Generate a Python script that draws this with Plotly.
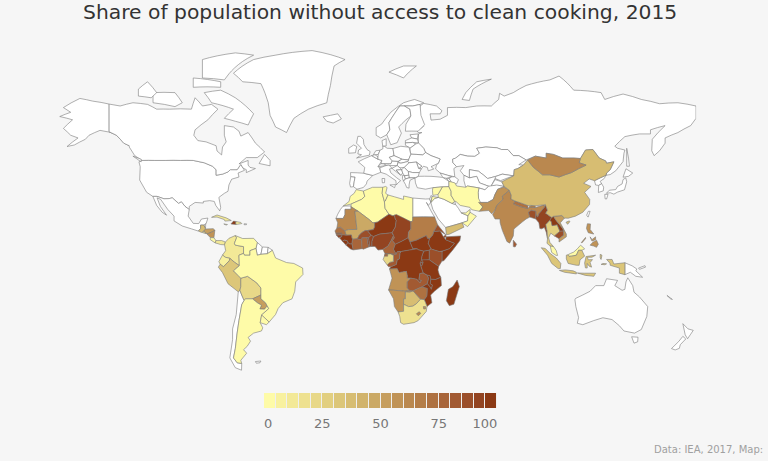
import plotly.graph_objects as go

# The page has no network, so plotly's world topojson can't load.
# Country outlines below are hand-simplified lon,lat rings instead.

title_text = "Share of population without access to clean cooking, 2015"
source_text = "Data: IEA, 2017, Map:"

bin_colors = [
    "#fefba8", "#f8f19f", "#f3e997", "#eee190", "#e8d888", "#e2cf80", "#dcc679",
    "#d7bd72", "#d1b36b", "#cba965", "#c69e5e", "#c09356", "#ba884f", "#b47d48",
    "#ae7141", "#a8653a", "#a25a32", "#9b4f2a", "#934421", "#8b3914",
]
scale_ticks = [1.8, 25, 50, 75, 94.8]
scale_labels = ["0", "25", "50", "75", "100"]

shaded_names = [
    "Morocco", "Algeria", "Tunisia", "Libya", "Mauritania", "Mali", "Senegal", "Gambia",
    "Guinea-Bissau", "Guinea", "Sierra Leone", "Liberia", "Ivory Coast", "Ghana", "Burkina Faso",
    "Togo", "Benin", "Niger", "Nigeria", "Cameroon", "Chad", "Sudan", "South Sudan", "CAR",
    "Eritrea", "Djibouti", "Ethiopia", "Somalia", "Kenya", "Uganda", "Rwanda", "Burundi",
    "Tanzania", "DR Congo", "Congo", "Gabon", "Eq. Guinea", "Angola", "Namibia", "Botswana",
    "Zambia", "Zimbabwe", "Malawi", "Mozambique", "South Africa", "Lesotho", "Swaziland",
    "Madagascar", "Yemen", "Oman", "UAE", "Iraq", "Syria", "Jordan", "Iran", "Pakistan", "India",
    "Nepal", "Bhutan", "Bangladesh", "Sri Lanka", "Myanmar", "Thailand", "Laos", "Cambodia",
    "Vietnam", "Malaysia", "China", "Mongolia", "Philippines", "Indonesia", "Guatemala",
    "Honduras", "El Salvador", "Nicaragua", "Costa Rica", "Panama", "Cuba", "Haiti",
    "Dominican Rep.", "Jamaica", "Colombia", "Venezuela", "Ecuador", "Peru", "Bolivia",
    "Paraguay", "Brazil", "Argentina", "Uruguay",
]
shaded_values = [
    2, 2, 2, 2, 62, 46, 70, 85,
    92, 99, 99, 99, 76, 75, 88,
    90, 92, 97, 90, 78, 92, 68, 98, 98,
    85, 85, 96, 97, 86, 98, 98, 98,
    97, 97, 80, 24, 78, 55, 58, 38,
    84, 70, 98, 96, 18, 60, 55,
    98, 38, 2, 2, 2, 2, 2, 2, 57, 62,
    72, 68, 88, 80, 93, 26, 96, 86,
    52, 2, 36, 62, 55, 34, 36,
    52, 22, 55, 4, 12, 12, 97,
    9, 8, 14, 3, 6, 32, 20,
    52, 3, 3, 3,
]

outlines = {
    "Russia": [
        "28,60 30,60 28.2,59.5 28,56 31,54 32,52.3 35,51 40,49.6 39,47.8 38,47 37.5,45.3 40,43.5 44,42.5 48,41.8 47.5,45.5 49,46.3 47,48 46.8,49.5 48.5,50 51,51.5 55,50.8 59,50.7 61.5,52 60,54 65,54.5 71,54.2 73.5,53.5 77,53.5 80,51 83,51 87,49.2 92,50.8 98,50 98,52 102,51.5 107,50 113,50 116.7,49.8 119.5,53.3 123.5,53.5 127,50 130.5,48.8 131,47.8 135,48.4 133,45 131,43.5 130.7,42.5 133,42.8 136,44.5 140,48.5 140.5,52 141,53.3 137,54 135.5,54.8 141,58.5 149,59.5 155,59.5 155,61 163,62.5 156,57.5 155.7,53 157,51 160,53 163,56 163,58 170,60 177,62.5 179.9,65 179.9,69 170,70 160,69.7 150,71 140,72.6 130,71 128,73 113,73.7 105,77.5 100,76.5 87,75 80,73 75,72 72.5,72.8 72,71 68,69 60,69 54,68.5 44,68.5 44,66 40,64.7 35,64.4 34.5,66.5 40,66.5 41,67.5 38,69 31,69.8 29,69 28.5,66 30,63 31,62.3 27.5,60.5",
        "142,54 143,50 143.5,46.5 142,46.5 142,50",
        "52,71 56,70.7 58,74 68,76.7 60,76 54,73",
    ],
    "USA": [
        "-141,69.6 -141,60.3 -137,59 -133,56 -130,55 -132,57 -137,59.5 -146,60.8 -152,59 -154,57.5 -160,55.3 -164,54.7 -158,58 -162,59 -166,61.5 -161,64.5 -168,65.6 -162,67 -166,68.5 -157,71.3 -150,70.5",
        "-124.7,48.4 -123,49 -116,49 -110,49 -102,49 -95,49 -89,48 -84.5,46.5 -82.5,45 -82.5,42.5 -79,43 -76,44 -74.7,45 -71,45 -69,47.3 -67.8,45.7 -67,44.7 -70.5,43.5 -70,41.7 -74,40.7 -75.5,38 -76,35 -78,34 -81,32 -80,27 -80.5,25.2 -82.7,28 -83.5,30 -86,30.4 -89.5,30 -89.5,29.2 -94,29.5 -97.2,27.5 -97.2,25.9 -99.5,27.5 -101.5,29.8 -103,29 -106.5,31.8 -108.2,31.4 -111,31.3 -114.8,32.5 -117.1,32.5 -120.5,34.5 -124.3,40.3 -124,46.3",
    ],
    "Canada": [
        "-141,69.6 -135,69 -128,70 -120,69.5 -115,68 -108,68 -96,68 -94,71.5 -90,69 -85,69.5 -81.5,68 -87,64.5 -94,61 -94.7,59 -92.5,57 -88,56.5 -82.5,55 -82,52.9 -79.5,51.3 -79,54.5 -77,56.5 -78,59 -78,62.5 -73,62 -70,60.5 -69,58.7 -65,60 -61,56 -56,52.5 -60,50.2 -66,50.2 -70,47.5 -65,49 -65,47 -64,46 -61,45.5 -66,43.7 -66,45 -67.8,45.7 -69,47.3 -71,45 -74.7,45 -76,44 -79,43 -82.5,42.5 -82.5,45 -84.5,46.5 -89,48 -95,49 -102,49 -110,49 -116,49 -123,49 -127,51 -130,54.5 -130,55 -133,56 -137,59 -141,60.3",
        "-80,73.7 -72,71.5 -62,66.5 -65,62.7 -72,64 -78,65 -73,68 -85,70 -89,73",
        "-117,70 -105,68.8 -101,70 -105,73 -117,73",
        "-59,47.7 -53,46.7 -53,49 -56,51.5",
        "-90,77 -78,76.5 -62,82.5 -72,83 -90,81.5",
        "-125,72 -118,71.5 -115,73 -120,76 -125,74",
        "-95,74.5 -80,74.5 -80,76 -95,77",
        "-128,50.8 -123.5,48.4 -123.5,49.5",
    ],
    "Greenland": ["-73,78.2 -68,76 -58,75.5 -54,70 -53,66 -50,62 -44,60 -40,65 -32,68 -22,70 -20,75 -18,80 -12,81.5 -30,83.5 -50,82.5 -62,81.5"],
    "Iceland": ["-24,65.5 -22,64 -18.5,63.4 -14,64.8 -16,66.5 -20,66"],
    "Mexico": ["-117.1,32.5 -114.8,32.5 -111,31.3 -108.2,31.4 -106.5,31.8 -103,29 -101.5,29.8 -99.5,27.5 -97.2,25.9 -97.8,22.5 -95,18.7 -92,18.6 -90.5,21 -87,21.5 -88,18.5 -89,17.8 -91,17.8 -91,16 -92.2,14.6 -96,15.8 -101,17.3 -105.5,20 -105.5,22.5 -109,26 -112.8,31 -114.8,31.8 -113,27.5 -109.6,23 -112,24.5 -115,28"],
    "Guatemala": ["-92.2,14.6 -91,16 -91,17.8 -89.2,17.8 -88.3,15.7 -89.3,14.5 -90.5,13.9"],
    "Belize": ["-89.2,17.8 -88.2,18.5 -88.3,16"],
    "Honduras": ["-89.3,14.5 -88.3,15.7 -84,15.9 -83.2,15 -85,14 -87.5,13.1"],
    "El Salvador": ["-90,13.8 -89.3,14.4 -87.8,13.5 -88,13.2"],
    "Nicaragua": ["-87.5,13 -85,14 -83.2,15 -83.7,11 -85.7,11.1"],
    "Costa Rica": ["-85.7,11.1 -83.7,11 -82.6,9.5 -83,8.2 -85.7,10"],
    "Panama": ["-83,8.2 -82.6,9.5 -79.5,9.5 -77.4,8.7 -77.9,7.2 -80,7.3 -81.5,7.8"],
    "Cuba": ["-85,21.9 -82,23.1 -77,21.6 -74.2,20.2 -77.7,19.9 -78,20.7 -82,22"],
    "Haiti": ["-74.4,18.4 -73,19.9 -71.7,19.7 -71.7,18.1"],
    "Dominican Rep.": ["-71.7,19.7 -69,19.2 -68.4,18.6 -71.7,18.1"],
    "Jamaica": ["-78.3,18.4 -76.3,18.1 -77,17.8"],
    "Puerto Rico": ["-67.2,18.5 -65.7,18.4 -66,18 -67.2,18"],
    "Colombia": ["-77.4,8.7 -75.5,10.7 -72,12.2 -71.3,11 -72.5,8 -72,7 -67.5,6.2 -67.5,2.5 -70,1.5 -69.8,-4.2 -72.5,-2.3 -75,-0.2 -77.5,0.4 -79,1.6 -77.3,4 -77.9,7.2"],
    "Venezuela": ["-72,12.2 -68,10.6 -62,10.7 -60,8.5 -60.7,5.2 -64,4 -64,1.5 -67,1.5 -67.5,2.5 -67.5,6.2 -72,7 -72.5,8 -71.3,11"],
    "Guyana": ["-60,8.5 -57.2,6 -58,2 -60,1.5 -60.7,5.2"],
    "Suriname": ["-57.2,6 -54,5.8 -54.5,2.3 -58,2"],
    "French Guiana": ["-54,5.8 -51.7,4.2 -54.5,2.3"],
    "Ecuador": ["-79,1.6 -77.5,0.4 -75,-0.2 -75.3,-1.5 -78.5,-4.8 -80.3,-3.4 -81,-2"],
    "Peru": ["-80.3,-3.4 -78.5,-4.8 -75.3,-1.5 -75,-0.2 -72.5,-2.3 -69.8,-4.2 -73,-7 -70.5,-9.5 -69,-11 -69,-15.5 -69.5,-17.5 -70.4,-18.3 -76,-14 -79,-8 -81.3,-5"],
    "Bolivia": ["-69,-11 -65.3,-10 -60.3,-13.5 -58,-16.3 -58,-20 -62.6,-22 -66.3,-22 -67.2,-22.8 -68.5,-20 -69.5,-17.5 -69,-15.5"],
    "Chile": ["-69.5,-17.5 -68.5,-20 -67.2,-22.8 -68.5,-25 -70,-33 -71,-39 -72,-46 -73,-50 -71,-52 -68.5,-52.3 -68.6,-55 -72,-54 -75,-50 -73.5,-42 -73.5,-37 -71.5,-30 -70.4,-18.3"],
    "Paraguay": ["-62.6,-22 -58,-20 -58,-22 -55.5,-24 -54.6,-25.6 -56,-27.3 -58.6,-27.2 -57.7,-25.3 -60,-24"],
    "Argentina": ["-66.3,-22 -62.6,-22 -60,-24 -57.7,-25.3 -58.6,-27.2 -56,-27.3 -54.6,-25.6 -53.7,-27 -57.6,-30.2 -58.4,-34 -57,-36.5 -57.7,-38 -62,-39 -65,-41 -63.7,-42.7 -65.5,-45 -67.5,-46.5 -65.8,-48 -69,-51 -68.5,-52.3 -71,-52 -73,-50 -72,-46 -71,-39 -70,-33 -68.5,-25 -67.2,-22.8"],
    "Uruguay": ["-57.6,-30.2 -53.5,-33.7 -55,-35 -58.4,-34"],
    "Brazil": ["-60.7,5.2 -60,1.5 -58,2 -54.5,2.3 -51.7,4.2 -50,0 -44,-2.5 -40,-3 -35.2,-5.5 -35,-9 -39,-13 -39.5,-18 -41,-22 -46,-24 -48.6,-27 -50,-30 -53.5,-33.7 -57.6,-30.2 -53.7,-27 -54.6,-25.6 -55.5,-24 -58,-22 -58,-16.3 -60.3,-13.5 -65.3,-10 -69,-11 -70.5,-9.5 -73,-7 -69.8,-4.2 -70,1.5 -67.5,2.5 -67,1.5 -64,1.5 -64,4"],
    "Falklands": ["-61,-51.5 -58,-51.3 -58.5,-52 -60.5,-52.2"],
    "Morocco": ["-5.9,35.8 -2,35.1 -1.2,32.5 -3,31 -8.7,28.7 -13,27.7 -9.8,30 -9.2,32.5 -7,34"],
    "W. Sahara": ["-13,27.7 -8.7,27.7 -8.7,26 -12,26 -12,23.4 -13,21.3 -17,21.3 -16,23.5 -14.5,26"],
    "Algeria": ["-2,35.1 3,36.9 8.6,36.9 8.3,34 9.5,30 9.9,26.5 12,23.5 5.8,19.4 3.2,19 1.2,20.7 -4.8,25 -8.7,27.3 -8.7,28.7 -3,31 -1.2,32.5"],
    "Tunisia": ["8.6,36.9 10.2,37.3 11,36.8 10.2,34 11.5,33.2 10,30.2 9.5,30 8.3,34"],
    "Libya": ["11.5,33.2 15,32.3 20,31 20,32.7 25,31.7 25,20 24,19.5 15,23 14.2,22.6 12,23.5 9.9,26.5 9.5,30 10,30.2"],
    "Egypt": ["25,31.7 32,31.2 34.3,31.3 34.9,29.5 33.5,28 32.5,29.5 35.7,24 37,22 25,22"],
    "Mauritania": ["-17,21.3 -13,21.3 -12,23.4 -12,26 -8.7,26 -8.7,27.3 -4.8,25 -6.6,25 -5.5,15.5 -10,15.4 -12.2,14.8 -14.5,16.6 -16.5,16.1 -16,19"],
    "Mali": ["-12.2,14.8 -10,15.4 -5.5,15.5 -6.6,25 -4.8,25 1.2,20.7 3.2,19 4.2,19 4.2,16.8 3.5,15.4 0.2,14.9 -1,14.9 -3,13.7 -4.3,12.3 -5.3,10.5 -7.9,10.2 -8.3,11 -8.5,12.5 -11.4,12.4"],
    "Senegal": ["-16.5,16.1 -14.5,16.6 -12.2,14.8 -11.4,12.4 -13.7,12.6 -16.7,12.4 -17.5,14.7"],
    "Gambia": ["-16.8,13.6 -13.8,13.6 -13.8,13.2 -16.7,13.2"],
    "Guinea-Bissau": ["-16.7,12.4 -13.7,12.6 -13.7,11.7 -15.5,11"],
    "Guinea": ["-13.7,12.6 -11.4,12.4 -8.5,12.5 -8.3,11 -7.9,10.2 -8.2,7.7 -9.4,7.6 -10.5,8.4 -10.7,9.3 -12.5,9.8 -13.3,9 -15,10.9 -13.7,11.7"],
    "Sierra Leone": ["-13.3,9 -12.5,9.8 -10.7,9.3 -10.5,8.4 -11.4,6.9"],
    "Liberia": ["-11.4,6.9 -10.5,8.4 -9.4,7.6 -8.2,7.7 -7.5,4.4 -9,4.9"],
    "Ivory Coast": ["-8.2,7.7 -7.9,10.2 -5.3,10.5 -2.9,9.8 -2.7,5.1 -7.5,4.4"],
    "Ghana": ["-2.9,9.8 -2.8,11 0,11.1 0.5,8 1,6 -2,4.8 -2.7,5.1"],
    "Burkina Faso": ["-5.3,10.5 -4.3,12.3 -3,13.7 -1,14.9 0.2,14.9 2.3,12.4 0.9,11 0,11.1 -2.8,11 -2.9,9.8"],
    "Togo": ["0,11.1 0.9,11 1.6,6.2 1,6 0.5,8"],
    "Benin": ["0.9,11 2.3,12.4 3.6,11.7 2.7,9 2.7,6.3 1.6,6.2"],
    "Niger": ["0.2,14.9 3.5,15.4 4.2,16.8 4.2,19 5.8,19.4 12,23.5 14.2,22.6 15,23 15.5,20.9 16,20.3 15.5,16.8 13.7,13.7 10,13.3 7,13 3.6,11.7 2.3,12.4"],
    "Nigeria": ["2.7,6.3 2.7,9 3.6,11.7 7,13 10,13.3 13.7,13.7 14.5,12.2 13.2,9.5 11.5,6.5 8.7,4.7 6,4.3 4.4,6.3"],
    "Cameroon": ["8.7,4.7 11.5,6.5 13.2,9.5 14.5,12.2 14.2,13 15,11 14,9.5 15.5,7.5 14.5,4.8 16,2 13,2.2 9.9,2.2"],
    "Chad": ["13.7,13.7 15.5,16.8 16,20.3 15.5,20.9 15,23 16,23.4 24,19.5 24,15.7 22.7,14 22.5,11 18.8,9 15.5,7.5 14,9.5 15,11 14.2,13"],
    "Sudan": ["24,19.5 25,20 25,22 37,22 38.6,18 36.5,14.3 36,12.5 34.2,10.5 33,10.7 32.5,12.2 27,9.7 23.5,8.7 22.5,11 22.7,14 24,15.7"],
    "South Sudan": ["23.5,8.7 27,9.7 32.5,12.2 33,10.7 34.2,10.5 33.5,8 35,5 34,4.2 31,3.7 28,4.5 27.4,5 25,5"],
    "CAR": ["14.5,4.8 15.5,7.5 18.8,9 22.5,11 23.5,8.7 25,5 27.4,5 22.5,4.2 18.6,3.5 16.5,3.4 16,2"],
    "Eritrea": ["36.5,14.3 38.6,18 43,12.7 40,14.6"],
    "Djibouti": ["43,12.7 43.3,11.5 42.3,11 41.8,11.5"],
    "Ethiopia": ["36.5,14.3 40,14.6 41.8,11.5 42.3,11 43,10 47.9,8 45,5 42,4 39.5,3.5 35.9,4.6 35,5 33.5,8 34.2,10.5 36,12.5"],
    "Somalia": ["43,10 43.3,11.5 51.2,12 50.8,9.5 47,4.5 42,-1.5 41,-1.7 41,3.5 42,4 45,5 47.9,8"],
    "Kenya": ["35,5 35.9,4.6 39.5,3.5 41,3.5 41,-1.7 39.2,-4.6 34,-1 34,4.2"],
    "Uganda": ["31,3.7 34,4.2 34,-1 29.7,-1.4 30,1"],
    "Rwanda": ["29,-1.4 30.5,-1.1 30.7,-2.4 29,-2.8"],
    "Burundi": ["29,-2.8 30.7,-2.4 30,-4.3 29.4,-4.4"],
    "Tanzania": ["30,-1 34,-1 39.2,-4.6 38.8,-6.5 39.5,-9 40.4,-10.5 37.5,-11.7 34.9,-11.6 34.4,-9.6 32.9,-9.4 30.7,-8.2 29.4,-4.4 30,-4.3 30.7,-2.4"],
    "DR Congo": ["18.6,3.5 22.5,4.2 27.4,5 28,4.5 31,3.7 30,1 29.7,-1.4 29,-2.8 29.4,-4.4 30.7,-8.2 28.9,-8.5 28.4,-11.8 29.8,-12.2 29,-13.4 27.2,-11.6 24,-11 22,-11 22,-9.5 21.5,-7.3 17.5,-8 16.5,-5.9 12.3,-6 13,-4.8 16,-3.5 16.5,-1 17.7,-0.5 18,2.5"],
    "Congo": ["16,2 16.5,3.4 18.6,3.5 18,2.5 17.7,-0.5 16.5,-1 16,-3.5 13,-4.8 11.8,-4.8 11,-3.8 12.5,-2.3 14.4,-2 14.5,1.4 13,2.2"],
    "Gabon": ["9.9,2.2 13,2.2 14.5,1.4 14.4,-2 12.5,-2.3 11,-3.8 8.8,-0.8 9.5,1"],
    "Eq. Guinea": ["9.8,2.2 11.3,2.2 11.3,1 9.5,1"],
    "Angola": ["12.3,-6 16.5,-5.9 17.5,-8 21.5,-7.3 22,-9.5 22,-11 24,-11 22,-13 22,-16.3 23.4,-17.6 20.8,-18 13.9,-17.4 11.8,-17.3 13.7,-11 13,-8.5"],
    "Namibia": ["11.8,-17.3 13.9,-17.4 20.8,-18 23.4,-17.6 25.2,-17.8 23.4,-18.5 21,-18.3 21,-22 20,-22 20,-28.4 17,-28.7 15,-26 14.5,-22"],
    "Botswana": ["21,-18.3 23.4,-18.5 25.2,-17.8 29.3,-22.2 26.8,-24.7 25,-25.8 22.7,-26 20,-24.8 20,-22 21,-22"],
    "Zambia": ["22,-13 24,-11 27.2,-11.6 29,-13.4 29.8,-12.2 28.4,-11.8 28.9,-8.5 30.7,-8.2 32.9,-9.4 33.7,-11 33,-14 30.2,-15.6 28,-16.5 25.2,-17.8 23.4,-17.6 22,-16.3"],
    "Zimbabwe": ["25.2,-17.8 28,-16.5 30.2,-15.6 33,-16.5 32.8,-20.5 31.3,-22.4 29.3,-22.2"],
    "Malawi": ["32.9,-9.4 34.4,-9.6 34.9,-11.6 34.6,-14 35.8,-14.7 35.2,-17 34.3,-15.5 33,-14 33.7,-11"],
    "Mozambique": ["34.9,-11.6 37.5,-11.7 40.4,-10.5 40.7,-15 36.9,-18 34.8,-20 35.5,-24 32.8,-26 32,-24 31.3,-22.4 32.8,-20.5 33,-16.5 30.2,-15.6 33,-14 34.3,-15.5 35.2,-17 35.8,-14.7 34.6,-14"],
    "South Africa": ["17,-28.7 20,-28.4 20,-24.8 22.7,-26 25,-25.8 26.8,-24.7 29.3,-22.2 31.3,-22.4 32,-24 32.8,-26 32.4,-28.5 28,-33 25.7,-34 20,-34.8 18.4,-34 17.9,-31"],
    "Lesotho": ["27,-29.6 28.6,-28.6 29.4,-29.5 28,-30.6"],
    "Swaziland": ["30.8,-26 32,-26 32,-27.2 31,-27.2"],
    "Madagascar": ["49.3,-12 50.5,-15.5 47.5,-24.8 45,-25.5 43.4,-23 44.5,-17 47,-15.5"],
    "Lake Victoria": ["31.7,-0.4 34,-0.4 33.8,-2.5 32,-2.6"],
    "Yemen": ["43.4,12.7 43,16.5 46,17.3 52,19 53,16.7 45,12.9"],
    "Oman": ["52,19 55,20 55.2,22.7 56.3,24.5 59.8,22.5 55,17"],
    "Saudi Arabia": ["34.9,29.5 37,31.5 39,32 42,31.1 46.5,29 48.4,28.5 50,26.5 51.5,24.2 55.2,22.7 55,20 52,19 46,17.3 43,16.5 39,21 36,26"],
    "UAE": ["51.5,24.2 54,24.2 56.4,26 56.3,24.5 55.2,22.7"],
    "Kuwait": ["46.5,29 48,30 48.4,28.5"],
    "Iraq": ["39,32 38.8,33.4 41.2,37.1 44.8,37.2 46,35 46,33 48,30 46.5,29 42,31.1"],
    "Syria": ["35.8,35.5 36,36.7 41.2,37.1 38.8,33.4 36,33"],
    "Jordan": ["35,29.5 35.6,32.5 39,32 37,31.5"],
    "Israel": ["34.3,31.3 35.1,33 35.6,32.5 35,29.5"],
    "Iran": ["44.8,39.7 48,39 49,37.5 54,36.9 55,37.5 61.2,36.6 60.8,34.4 61,31.5 63.3,27.2 61.5,25 57.3,25.8 56.3,27 51,28 48.6,30 48,30 46,33 46,35 44.8,37.2"],
    "Turkey": ["26.2,41.2 28,42 35,42 41.5,41.5 44.8,39.7 44.8,37.2 41.2,37.1 36,36.7 32,36 27.5,36.7 26.5,39"],
    "Georgia": ["40,43.5 44,42.5 46.4,41.8 43.5,41.1 41.5,41.5"],
    "Armenia": ["43.5,41.1 45,41 46.5,38.9 44.8,39.7"],
    "Azerbaijan": ["44.9,41 46.4,41.8 48,41.8 50,40.5 49,38.5 46.5,38.9"],
    "Kazakhstan": ["46.8,49.5 47,48 49,46.3 53,46.8 51,44.5 53,42.5 56,41.3 56,45 61,44.3 66,41 70.5,42 74,43 80.2,42.2 80.5,45 82.5,45.5 85.5,47 83,47.2 87,49.2 83,51 80,51 77,53.5 73.5,53.5 71,54.2 65,54.5 60,54 61.5,52 59,50.7 55,50.8 51,51.5 48.5,50"],
    "Uzbekistan": ["56,45 56,41.3 60,42 61.5,39 66.5,37.4 67.7,37.2 70,41 73,40.8 70.5,42 66,41 61,44.3"],
    "Turkmenistan": ["53,42.5 56,41.3 60,42 61.5,39 66.5,37.4 64.5,35.7 61.2,36.6 55,37.5 54,36.9 53,40"],
    "Kyrgyzstan": ["70,41 73,40 80.2,42.2 74,43 70.5,42"],
    "Tajikistan": ["67.7,37.2 70,37.8 75,37.3 73.7,39.5 70,40.5"],
    "Afghanistan": ["60.8,34.4 61.2,36.6 64.5,35.7 66.5,37.4 71,38 75,37.3 71.5,36 70,33.5 69,31 66,29.5 61,29.5 61,31.5"],
    "Pakistan": ["61,29.5 66,29.5 69,31 70,33.5 71.5,36 75,37 77.8,35.5 74,32.5 74.5,31 71,28 70,25.5 68.2,23.7 66.5,25.4 61.5,25 63.3,27.2"],
    "India": ["77.8,35.5 78.9,33 78.7,31.2 81,30.2 80.2,28.7 84,27.4 88,26.4 88.8,27.3 92,26.9 97,28.3 97,27 94,23.8 93.3,22 92.3,23.5 92.3,25 89.8,25.5 88.3,24.5 89,22 87,21 85,19.5 80.3,15.7 80,12 78,8.1 76.5,9 74,15 72.8,19 72.7,21 70,21 68.7,23.3 70,25.5 71,28 74.5,31 74,32.5"],
    "Nepal": ["80.2,28.7 81,30.2 88,27.9 88,26.4 84,27.4"],
    "Bhutan": ["88.8,27.3 89.5,28 92,27.8 92,26.9"],
    "Bangladesh": ["88.3,24.5 89.8,25.5 92.3,25 92.3,23.5 92.3,21 89,22"],
    "Sri Lanka": ["80,9.7 81.8,7.5 81,6 80,6.2"],
    "Myanmar": ["92.3,21 92.3,23.5 93.3,22 94,23.8 97,27 97.5,28.5 98.7,25.5 97.7,24 101,21.8 100,20.3 97.8,18 98.5,14.5 98.7,10.5 98,14 97,16.5 95.5,15.8 94.5,16 94,19"],
    "Thailand": ["97.8,18 100,20.3 100.8,19.5 101.2,17.5 104,18 105.5,14.5 102.5,12 100.5,13.5 99.3,11 100,8.5 102,6.2 100.2,6.5 98.4,8 98.7,10.5 98.5,14.5"],
    "Laos": ["101,21.8 102,22.4 103,20.8 107,16 107.5,14.7 105.5,14.5 104,18 101.2,17.5 100.8,19.5 100,20.3"],
    "Cambodia": ["102.5,12 105.5,14.5 107.5,14.7 107.5,12.3 105,10.5"],
    "Vietnam": ["102,22.4 106.5,22.8 108,21.5 105.7,19 109,13 109,11.5 105,8.7 105,10.5 107.5,12.3 107.5,14.7 107,16 103,20.8"],
    "Malaysia": [
        "100.2,6.5 102,6.2 103.5,4 104.2,1.4 103.4,1.4 101,3",
        "109.7,1.7 111.3,2.5 113,3.2 115,5 116.8,7 119,5 117.5,4.2 115.7,4.2 114.5,1.5 112,1 110.5,0.9",
    ],
    "China": [
        "73.7,39.5 75,37.3 77.8,35.5 78.9,33 78.7,31.2 81,30.2 88,27.9 89.5,28 92,27.8 97,28.3 97.5,28.5 98.7,25.5 97.7,24 101,21.8 102,22.4 106.5,22.8 108,21.5 110,21.4 114,22.5 118,24.5 121.7,28.5 121.8,31 119,34.5 122.5,37.3 118.5,38.8 121.5,40.8 124.4,40 130.7,42.5 131,43.5 133,45 135,48.4 131,47.8 130.5,48.8 127,50 123.5,53.5 119.5,53.3 116.7,49.8 116,48 119.8,47 111.8,43.7 105,41.7 100,42.7 96,42.7 91,46 87.8,49.2 85.5,47 82.5,45.5 80.5,45 80.2,42.2",
        "108.8,19.3 110.5,20 111,19.7 109.7,18.2",
    ],
    "Mongolia": ["87.8,49.2 91,46 96,42.7 100,42.7 105,41.7 111.8,43.7 119.8,47 116,48 116.7,49.8 113,50 107,50 102,51.5 98,52 98,50 92,50.8"],
    "Taiwan": ["121,25 122,25 120.9,22 120.1,23"],
    "North Korea": ["124.4,40 130.7,42.5 129.7,41 127.5,39.7 128.3,38.6 126.7,37.8 125,38"],
    "South Korea": ["126.7,37.8 128.3,38.6 129.4,37 129.2,35.2 126.5,34.4"],
    "Japan": [
        "130.9,34 132.5,35.5 136,35.8 137,37.3 139.5,38.5 140,40.5 141.5,41.3 142,39.5 140.8,35.7 137,34.6 135,33.6 133,34.3",
        "140,41.6 141.6,45.4 145.3,43.5 143,42",
        "130,33.5 131.8,33.5 131,31.2 130.2,31.3",
    ],
    "Philippines": [
        "120.5,18.5 122.2,18.4 122,15.5 124,13 121,13.7 120,16",
        "122,7 123.5,8.6 125.5,9.7 126.5,7.5 125.5,5.8 124,6.5",
        "122,11.5 123,10 125,11.5 125,10 123,9.2",
        "117.2,8.4 119.5,11.2 119.5,10.5 117.5,8.2",
    ],
    "Indonesia": [
        "95.3,5.6 97.5,5.2 100.5,2.2 103.5,0 106,-3 105.7,-5.8 104.5,-5.8 101,-3 98.7,1.5",
        "105.2,-6.8 108.5,-6.5 112.7,-7 114.5,-7.8 114.5,-8.7 108,-7.8",
        "109,1.5 109.7,1.7 110.5,0.9 112,1 114.5,1.5 115.7,4.2 117.5,4.2 119,1 116.5,-1 116,-4 114.5,-4 110,-3 109,-0.5",
        "119.8,0.8 125,1.5 123,0.4 120.5,0.4 121,-1 123.3,-0.9 122,-2.5 122.8,-5 121.5,-4.5 120.4,-3 120.4,-5.5 119.4,-5.4 119,-2.7",
        "131,-0.8 134,-0.8 135,-3.3 141,-2.6 141,-9.1 138,-8.3 138,-5.5 133,-4 132.8,-2.8",
        "115,-8.2 119,-8.3 125,-8.3 124,-10 119.5,-9.5",
        "127.5,2 128.5,1.5 128,-0.8 127.5,0",
        "129,-3 131,-3.2 130,-3.7 128,-3.5",
    ],
    "Papua New Guinea": [
        "141,-2.6 145,-4.3 147.5,-6 147,-7 150.7,-10.5 147,-10 144,-7.8 141,-9.1",
        "148.5,-5.5 152,-4.2 152.3,-5 149,-6.2",
    ],
    "Australia": [
        "113.7,-22.5 114.2,-26 115.7,-31.5 115,-34.3 118,-35 124,-33 129,-31.6 134,-32.5 138,-35.5 140.5,-38 146.3,-39 150,-37.3 153,-31 153.5,-26 149,-21 146,-18.5 145.3,-15 142.6,-10.8 141.6,-13 141,-17 139.5,-17.5 135.5,-15 137,-12.2 131,-11.3 129.5,-15 125,-15 122,-18 114,-21.8",
        "144.7,-40.7 148.2,-40.9 148,-43 146,-43.6",
    ],
    "New Zealand": [
        "172.7,-34.5 175.5,-37 178.4,-37.7 177,-39.5 175.3,-41.6 174,-39.8",
        "172.7,-40.5 174.3,-41.7 171.3,-44.3 170.8,-45.9 168.5,-46.6 166.5,-46 170.5,-42.8",
    ],
    "New Caledonia": ["164,-20.2 167,-22.3 166,-22"],
    "Portugal": ["-9.5,38.7 -8.9,41.9 -6.5,41.7 -7,39.5 -7.4,37.2 -9,37"],
    "Spain": ["-9,43.7 -1.8,43.4 3.2,42.4 0,39.8 -0.3,38.5 -2,36.8 -5.5,36 -7.4,37.2 -7,39.5 -6.5,41.7 -8.9,41.9"],
    "France": ["-1.8,43.4 3.2,42.4 7.5,43.8 7,45.8 6,46.3 8.2,49 6,49.5 2.5,51 -1.5,49.7 -4.8,48.4 -1.2,46"],
    "Belgium": ["2.5,51 4.3,51.4 6,50.5 6,49.5"],
    "Netherlands": ["3.5,51.4 6.2,51.5 7.1,53.2 4.8,53"],
    "Germany": ["6,49.5 8.2,49 7.6,47.6 13,47.5 13.8,48.8 12.2,50.3 14.8,51 14.2,53.9 11,54 9.5,54.8 8.6,54.9 8.7,53.8 7.1,53.2 6.2,51.5 6,50.5"],
    "Switzerland": ["6,46.3 10.4,46.8 9.5,47.5 7.6,47.6"],
    "Austria": ["9.6,47.5 13,47.5 13.8,48.8 17,48.6 16.5,46.8 10.4,46.8"],
    "Italy": [
        "7,45.8 7.5,43.8 10.5,43 15.8,40 16,38 17,39 18.4,40 16,41.5 13,43.6 12.3,45.3 13.7,45.6 12,47 10.4,46.8",
        "12.5,38 15.6,38.2 15.1,36.7",
        "8.2,41 9.7,41 9.6,39.1 8.4,39",
    ],
    "UK": ["-5.7,50 1.3,51.2 1.7,52.7 0,53.5 -1.7,55.5 -2,57.5 -3.5,58.6 -5,58.6 -5.7,56 -3,54 -4.6,53.3 -5,51.7 -3,51.4"],
    "Ireland": ["-10,52 -6.3,52.2 -6,53.5 -5.6,54.7 -7.3,55.3 -10,54"],
    "Denmark": ["8.6,54.9 10.5,54.9 10.5,57.7 8.2,57"],
    "Norway": [
        "5,59 7.5,58 10.8,59.2 12.5,61 12,63.5 15,66.5 18,69 25,69 29,69.5 31,70 26,71 20,70 13,67 8,63 5,61.8",
        "12,78.5 20,80 27,80 20,77",
    ],
    "Sweden": ["10.8,59.2 13,55.4 16.5,56.2 18.8,59.8 17.3,62 21.3,64.5 24,65.8 23.5,68 20.5,69 18,69 15,66.5 12,63.5 12.5,61"],
    "Finland": ["21,60.5 28,60.5 31.5,62.8 29.5,66 29,69.5 25,69 20.5,69 23.5,68 24,65.8 21.3,63"],
    "Estonia": ["23.5,59.2 28,59.5 27.5,57.6 24.4,58"],
    "Latvia": ["21,57 24.4,58 27.5,57.6 28.2,56.1 25,56.3 21,56.1"],
    "Lithuania": ["21,56.1 25,56.3 26.7,55.7 23.5,54 22.8,54.4 21,55.2"],
    "Belarus": ["23.5,54 26.7,55.7 28.2,56.1 31,54 32,52.3 30.5,51.3 24,51.6 23.6,52.5"],
    "Poland": ["14.2,53.9 18.5,54.8 23,54.4 23.6,52.5 24,51.6 22.7,49.2 19,49.5 14.8,51"],
    "Ukraine": ["24,51.6 30.5,51.3 32,52.3 35,51 40,49.6 39,47.8 35,46.3 36.5,45.3 33.5,44.5 33,46 30.8,46.5 29.7,45.3 28.2,45.5 30,46.5 27,48.3 22.9,48 22.2,48.5 22.7,49.2"],
    "Moldova": ["27,48.3 30,46.5 28.2,45.5"],
    "Romania": ["20.3,46 22.9,48 27,48.3 28.2,45.5 29.7,45.3 28.6,43.7 25,43.7 22.5,44.2"],
    "Bulgaria": ["22.5,44.2 25,43.7 28.6,43.7 28,42 26.2,41.3 23,41.3"],
    "Slovakia": ["17,48.6 19,49.5 22.7,49.2 22.2,48.5 18.5,47.8"],
    "Czechia": ["12.2,50.3 14.8,51 19,49.6 17,48.6 13.8,48.8"],
    "Hungary": ["16.5,46.8 17,48.1 18.5,47.8 22.2,48.5 22.9,48 20.3,46 18,45.8"],
    "Croatia": ["13.7,45.6 16.5,46.8 18,45.8 19,45 16,44.8 18.5,42.5 14.5,45"],
    "Bosnia": ["16,44.8 19,45 19.5,43.5 18.5,42.5"],
    "Serbia": ["19,45 20.3,46 22.5,44.2 22.9,42.5 20.5,42.3 19.5,43.5"],
    "Albania": ["19.5,42.5 20.5,42.3 21,40.8 20,39.8 19.4,41"],
    "Macedonia": ["20.5,42.3 22.9,42.5 23,41.3 21,40.8"],
    "Greece": ["20,39.8 21,40.8 23,41.3 26.2,41.3 23.5,40.2 23,38 23,36.5 21.7,36.8 21,38.3"],
}


def parse_ring(text):
    pairs = [p.split(",") for p in text.split()]
    lon = [float(p[0]) for p in pairs]
    lat = [float(p[1]) for p in pairs]
    # d3-geo fills the outside of a counter-clockwise ring
    area = sum(lon[i - 1] * lat[i] - lon[i] * lat[i - 1] for i in range(len(lon)))
    if area > 0:
        lon.reverse()
        lat.reverse()
    return lon + lon[:1], lat + lat[:1]


def country_color(name):
    if name in shaded_names:
        value = shaded_values[shaded_names.index(name)]
        return bin_colors[min(19, int(value / 5))]
    return "#ffffff"


fig = go.Figure()
# white countries first so the shaded borders sit on top
for name in sorted(outlines, key=lambda n: n in shaded_names):
    for ring in outlines[name]:
        lon, lat = parse_ring(ring)
        fig.add_trace(go.Scattergeo(
            lon=lon, lat=lat, mode="lines", fill="toself",
            fillcolor=country_color(name),
            line=dict(color="#7a7a7a", width=0.6),
            name=name, hoverinfo="name", showlegend=False,
        ))

cell_mids = [2.5 + 5 * i for i in range(20)]
fig.add_trace(go.Heatmap(
    x=cell_mids, y=[0], z=[list(range(20))], xaxis="x", yaxis="y",
    colorscale=[[i / 19, c] for i, c in enumerate(bin_colors)],
    showscale=False, xgap=1, hoverinfo="skip",
))

fig.update_layout(
    width=768, height=461,
    margin=dict(l=0, r=0, t=0, b=0),
    paper_bgcolor="#f6f6f6", plot_bgcolor="#efefef",
    font=dict(family="DejaVu Sans", color="#666666"),
    title=dict(text=title_text, x=0.495, xanchor="center", y=0.975, yanchor="middle",
               font=dict(size=20.3, color="#333333")),
    geo=dict(
        projection_type="miller",
        domain=dict(x=[9 / 768, 725 / 768], y=[41 / 461, 411 / 461]),
        lonaxis_range=[-180, 180], lataxis_range=[-60, 85],
        showland=False, showcoastlines=False, showocean=False, showlakes=False,
        showcountries=False, showframe=False, showsubunits=False, showrivers=False,
        bgcolor="rgba(0,0,0,0)",
    ),
    xaxis=dict(
        domain=[264 / 768, 497 / 768], range=[0, 100], anchor="y",
        tickmode="array", tickvals=scale_ticks, ticktext=scale_labels,
        showgrid=False, zeroline=False, showline=False, ticks="", fixedrange=True,
        ticklabelstandoff=6, tickfont=dict(size=13, color="#777777"),
    ),
    yaxis=dict(
        domain=[(461 - 408) / 461, (461 - 393) / 461], anchor="x",
        showticklabels=False, showgrid=False, zeroline=False, fixedrange=True,
    ),
    annotations=[dict(
        text=source_text, xref="paper", yref="paper", x=652 / 768, y=(461 - 449) / 461,
        xanchor="left", yanchor="middle", showarrow=False,
        font=dict(size=10, color="#a0a0a0"),
    )],
)

fig.write_html(
    "out.html",
    config={"displayModeBar": False},
    post_script="document.body.style.margin='0';document.body.style.background='#f6f6f6';document.body.style.overflow='hidden';",
)
